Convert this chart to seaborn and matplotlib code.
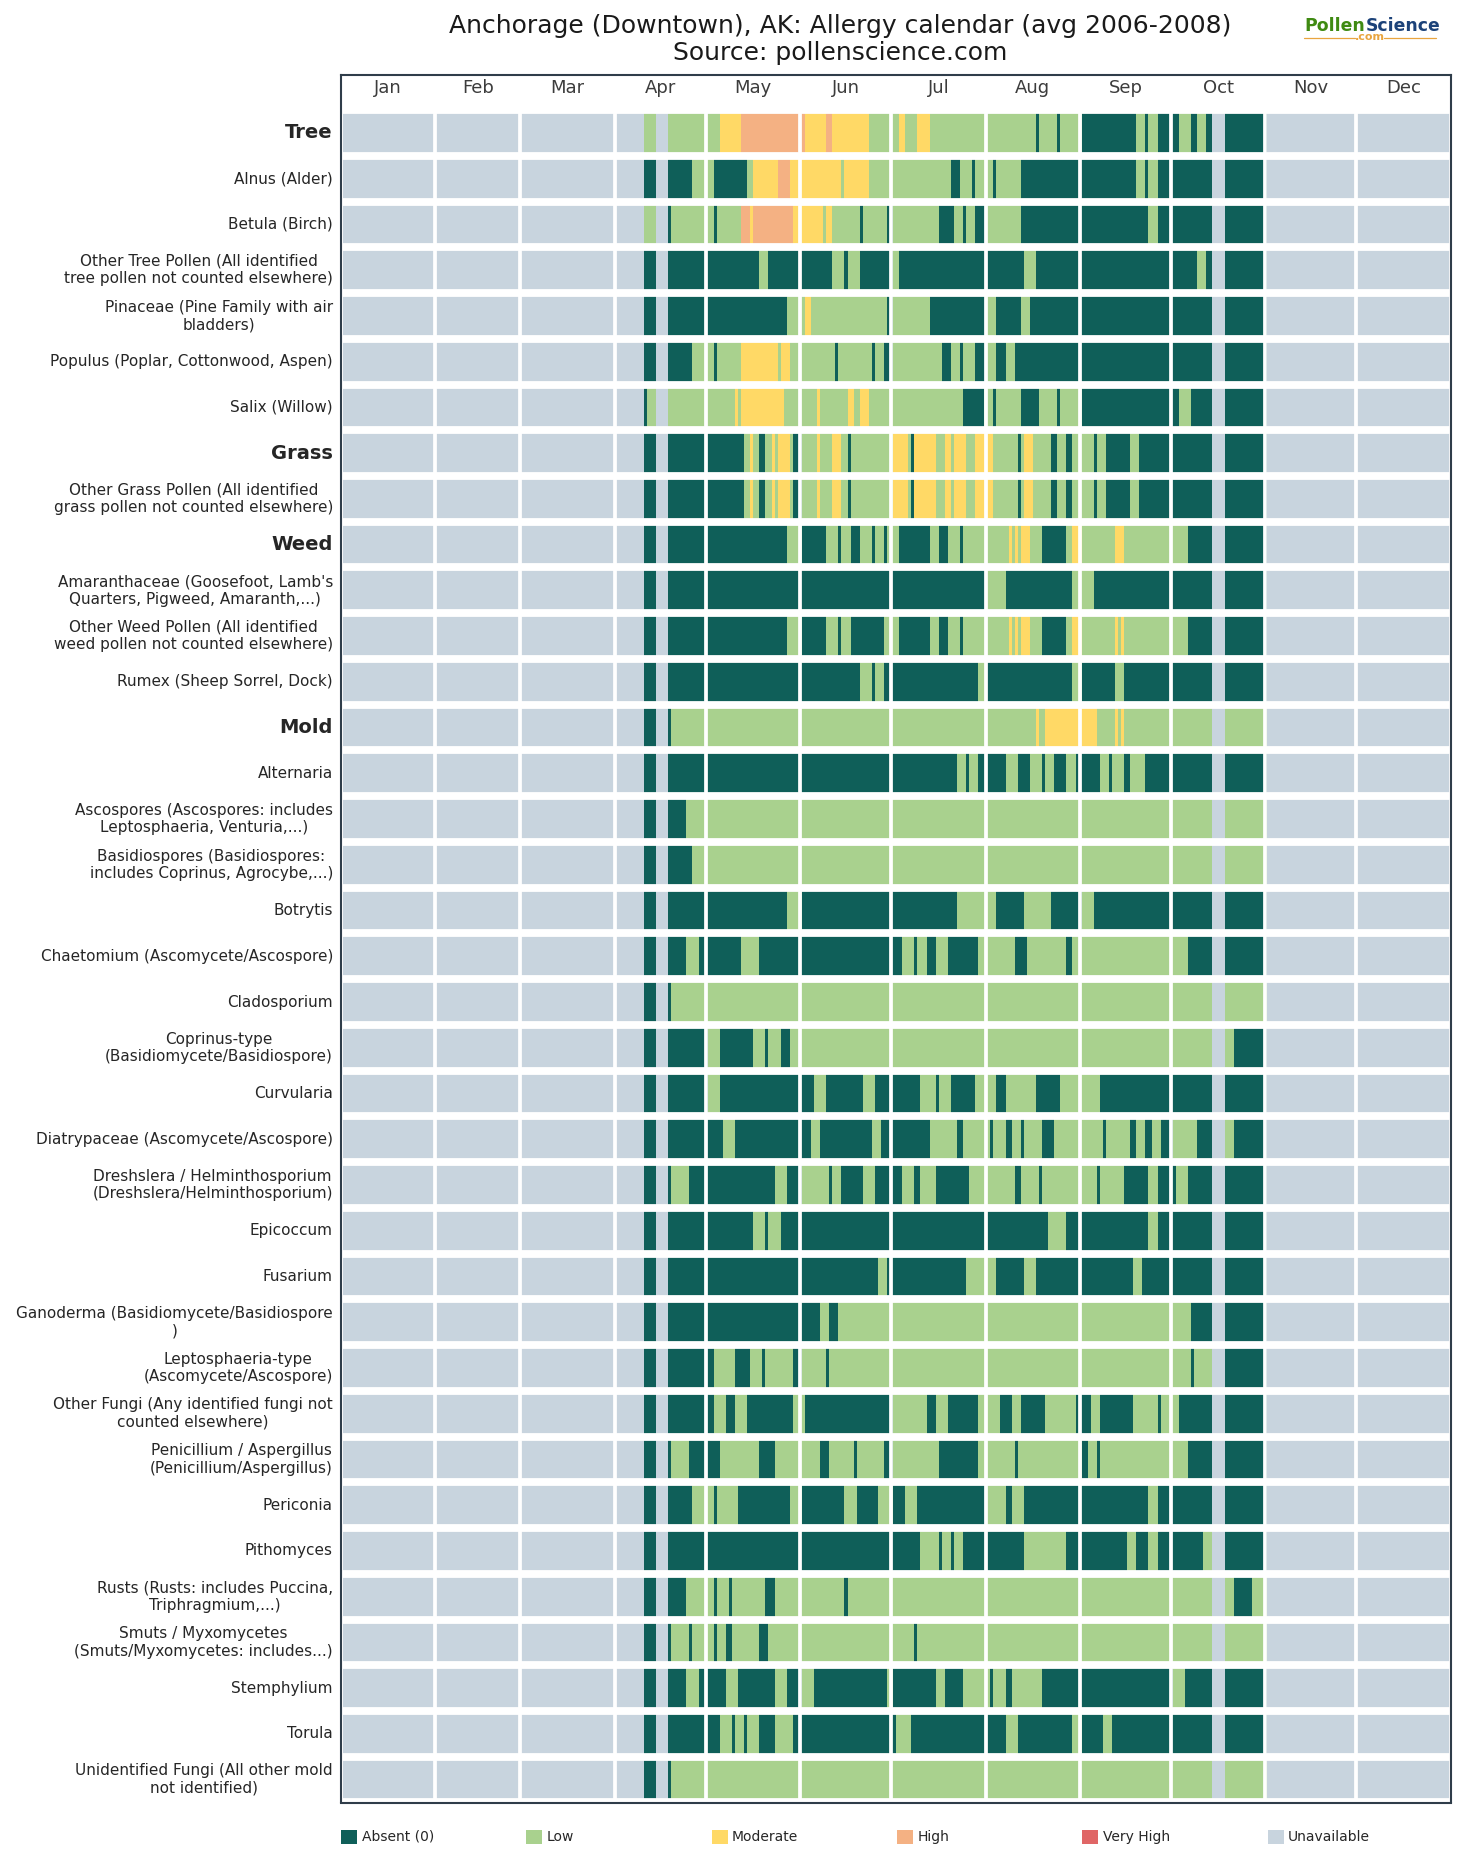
import numpy as np
import pandas as pd
import matplotlib
matplotlib.use("Agg")
import matplotlib.pyplot as plt
from matplotlib.colors import ListedColormap
from matplotlib.patches import Rectangle
from matplotlib.lines import Line2D
import seaborn as sns

# Severity levels
A, L, M, H, V, U = 0, 1, 2, 3, 4, 5

LEVEL_NAMES = ["Absent (0)", "Low", "Moderate", "High", "Very High", "Unavailable"]
LEVEL_COLORS = ["#0f5f59", "#a9d18e", "#ffd966", "#f4b183", "#e06666", "#c8d4de"]

MONTHS = ["Jan", "Feb", "Mar", "Apr", "May", "Jun", "Jul", "Aug", "Sep", "Oct", "Nov", "Dec"]
MONTH_DAYS = [31, 28, 31, 30, 31, 30, 31, 31, 30, 31, 30, 31]

LABELS = [
    "Tree", "Alnus (Alder)", "Betula (Birch)",
    "Other Tree Pollen (All identified\ntree pollen not counted elsewhere)",
    "Pinaceae (Pine Family with air\nbladders)",
    "Populus (Poplar, Cottonwood, Aspen)", "Salix (Willow)",
    "Grass", "Other Grass Pollen (All identified\ngrass pollen not counted elsewhere)",
    "Weed", "Amaranthaceae (Goosefoot, Lamb's\nQuarters, Pigweed, Amaranth,...)",
    "Other Weed Pollen (All identified\nweed pollen not counted elsewhere)",
    "Rumex (Sheep Sorrel, Dock)",
    "Mold", "Alternaria",
    "Ascospores (Ascospores: includes\nLeptosphaeria, Venturia,...)",
    "Basidiospores (Basidiospores:\nincludes Coprinus, Agrocybe,...)",
    "Botrytis", "Chaetomium (Ascomycete/Ascospore)", "Cladosporium",
    "Coprinus-type\n(Basidiomycete/Basidiospore)", "Curvularia",
    "Diatrypaceae (Ascomycete/Ascospore)",
    "Dreshslera / Helminthosporium\n(Dreshslera/Helminthosporium)",
    "Epicoccum", "Fusarium",
    "Ganoderma (Basidiomycete/Basidiospore\n)",
    "Leptosphaeria-type\n(Ascomycete/Ascospore)",
    "Other Fungi (Any identified fungi not\ncounted elsewhere)",
    "Penicillium / Aspergillus\n(Penicillium/Aspergillus)",
    "Periconia", "Pithomyces",
    "Rusts (Rusts: includes Puccina,\nTriphragmium,...)",
    "Smuts / Myxomycetes\n(Smuts/Myxomycetes: includes...)",
    "Stemphylium", "Torula",
    "Unidentified Fungi (All other mold\nnot identified)",
]
CATEGORY_ROWS = {"Tree", "Grass", "Weed", "Mold"}

# Each series: (first day of year, level from that day on); days before the
# first entry and from November on are unavailable.
tree = [(99,L),(103,U),(107,L),(124,M),(131,H),(152,M),(159,H),(161,M),(173,L),(183,M),(185,L),(189,M),(193,L),(228,A),(229,L),(235,A),(236,L),(243,A),(261,L),(264,A),(265,L),(268,A),(275,L),(279,A),(281,L),(284,A),(286,U),(290,A)]
alnus = [(99,A),(103,U),(107,A),(115,L),(122,A),(133,L),(135,M),(143,H),(147,M),(164,L),(165,M),(173,L),(200,A),(203,L),(207,A),(208,L),(214,A),(215,L),(223,A),(261,L),(264,A),(265,L),(268,A),(286,U),(290,A)]
betula = [(99,L),(103,U),(107,A),(108,L),(122,A),(123,L),(131,H),(134,M),(135,H),(148,M),(158,L),(159,M),(161,L),(170,A),(171,L),(179,A),(181,L),(196,A),(201,L),(204,A),(205,L),(208,A),(212,L),(223,A),(265,L),(268,A),(286,U),(290,A)]
other_tree = [(99,A),(103,U),(107,A),(137,L),(140,A),(161,L),(165,A),(166,L),(170,A),(181,L),(183,A),(224,L),(228,A),(281,L),(284,A),(286,U),(290,A)]
pinaceae = [(99,A),(103,U),(107,A),(146,L),(152,M),(154,L),(179,A),(181,L),(193,A),(212,L),(215,A),(223,L),(226,A),(286,U),(290,A)]
populus = [(99,A),(103,U),(107,A),(115,L),(122,A),(123,L),(131,M),(143,L),(144,M),(147,L),(162,A),(163,L),(174,A),(175,L),(178,A),(181,L),(197,A),(200,L),(203,A),(204,L),(208,A),(212,L),(215,A),(218,L),(221,A),(286,U),(290,A)]
salix = [(99,A),(100,L),(103,U),(107,L),(129,M),(130,L),(131,M),(145,L),(156,M),(157,L),(166,M),(168,L),(170,M),(173,L),(204,A),(211,L),(214,A),(215,L),(223,A),(229,L),(235,A),(236,L),(243,A),(275,L),(279,A),(286,U),(290,A)]
grass = [(99,A),(103,U),(107,A),(132,L),(134,M),(135,L),(137,A),(139,L),(141,M),(142,L),(143,M),(147,L),(148,A),(151,L),(156,M),(157,L),(161,M),(164,L),(166,A),(167,L),(181,M),(186,L),(187,A),(188,M),(195,L),(198,M),(200,L),(201,M),(205,L),(208,M),(214,L),(222,A),(223,L),(224,M),(227,L),(233,A),(235,L),(238,A),(240,L),(247,A),(248,L),(251,A),(259,L),(262,A),(286,U),(290,A)]
other_grass = list(grass)
weed = [(99,A),(103,U),(107,A),(146,L),(151,A),(159,L),(163,A),(164,L),(167,A),(170,L),(174,A),(175,L),(178,A),(179,L),(183,A),(193,L),(196,A),(199,L),(203,A),(204,L),(219,M),(220,L),(221,M),(222,L),(223,M),(226,L),(230,A),(238,L),(240,M),(243,L),(254,M),(257,L),(278,A),(286,U),(290,A)]
amaranthaceae = [(99,A),(103,U),(107,A),(212,L),(218,A),(240,L),(247,A),(286,U),(290,A)]
other_weed = [(99,A),(103,U),(107,A),(146,L),(151,A),(159,L),(163,A),(164,L),(167,A),(178,L),(183,A),(193,L),(196,A),(199,L),(203,A),(204,L),(219,M),(220,L),(221,M),(222,L),(223,M),(226,L),(230,A),(238,L),(240,M),(243,L),(254,M),(255,L),(256,M),(257,L),(278,A),(286,U),(290,A)]
rumex = [(99,A),(103,U),(107,A),(170,L),(174,A),(175,L),(178,A),(209,L),(212,A),(240,L),(243,A),(254,L),(257,A),(286,U),(290,A)]
mold = [(99,A),(103,U),(107,A),(108,L),(228,M),(229,L),(231,M),(248,L),(254,M),(255,L),(256,M),(257,L),(286,U),(290,L)]
alternaria = [(99,A),(103,U),(107,A),(202,L),(205,A),(206,L),(209,A),(218,L),(222,A),(226,L),(230,A),(231,L),(234,A),(238,L),(241,A),(249,L),(252,A),(253,L),(257,A),(259,L),(264,A),(286,U),(290,A)]
ascospores = [(99,A),(103,U),(107,A),(113,L),(286,U),(290,L)]
basidiospores = [(99,A),(103,U),(107,A),(115,L),(286,U),(290,L)]
botrytis = [(99,A),(103,U),(107,A),(146,L),(151,A),(202,L),(215,A),(224,L),(233,A),(243,L),(247,A),(286,U),(290,A)]
chaetomium = [(99,A),(103,U),(107,A),(113,L),(117,A),(131,L),(137,A),(184,L),(188,A),(189,L),(192,A),(195,L),(199,A),(209,L),(221,A),(225,L),(238,A),(240,L),(278,A),(286,U),(290,A)]
cladosporium = [(99,A),(103,U),(107,A),(108,L),(286,U),(290,L)]
coprinus = [(99,A),(103,U),(107,A),(120,L),(124,A),(135,L),(139,A),(140,L),(144,A),(147,L),(286,U),(290,L),(293,A)]
curvularia = [(99,A),(103,U),(107,A),(120,L),(124,A),(155,L),(159,A),(171,L),(175,A),(190,L),(195,A),(196,L),(200,A),(208,L),(215,A),(218,L),(228,A),(236,L),(249,A),(286,U),(290,A)]
diatrypaceae = [(99,A),(103,U),(107,A),(125,L),(129,A),(154,L),(157,A),(174,L),(177,A),(193,L),(202,A),(204,L),(213,A),(214,L),(218,A),(220,L),(223,A),(224,L),(230,A),(234,L),(250,A),(251,L),(259,A),(261,L),(264,A),(266,L),(269,A),(273,L),(281,A),(286,U),(290,L),(293,A)]
dreshslera = [(99,A),(103,U),(107,A),(108,L),(114,A),(142,L),(146,A),(151,L),(160,A),(161,L),(164,A),(171,L),(175,A),(184,L),(188,A),(190,L),(195,A),(206,L),(221,A),(223,L),(229,A),(230,L),(248,A),(249,L),(257,A),(265,L),(268,A),(274,L),(278,A),(286,U),(290,A)]
epicoccum = [(99,A),(103,U),(107,A),(135,L),(139,A),(140,L),(144,A),(232,L),(238,A),(265,L),(268,A),(286,U),(290,A)]
fusarium = [(99,A),(103,U),(107,A),(176,L),(179,A),(205,L),(215,A),(224,L),(228,A),(260,L),(263,A),(286,U),(290,A)]
ganoderma = [(99,A),(103,U),(107,A),(157,L),(160,A),(163,L),(279,A),(286,U),(290,A)]
leptosphaeria = [(99,A),(103,U),(107,A),(122,L),(129,A),(134,L),(138,A),(139,L),(148,A),(151,L),(159,A),(160,L),(279,A),(280,L),(286,U),(290,A)]
other_fungi = [(99,A),(103,U),(107,A),(122,L),(126,A),(129,L),(133,A),(148,L),(152,A),(181,L),(192,A),(195,L),(199,A),(209,L),(216,A),(220,L),(223,A),(231,L),(241,A),(246,L),(249,A),(260,L),(268,A),(269,L),(275,A),(286,U),(290,A)]
penicillium = [(99,A),(103,U),(107,A),(108,L),(114,A),(124,L),(137,A),(142,L),(157,A),(160,L),(168,A),(169,L),(178,A),(181,L),(196,A),(209,L),(221,A),(222,L),(243,A),(245,L),(248,A),(249,L),(278,A),(286,U),(290,A)]
periconia = [(99,A),(103,U),(107,A),(115,L),(122,A),(123,L),(130,A),(147,L),(151,A),(165,L),(169,A),(176,L),(181,A),(185,L),(189,A),(212,L),(218,A),(220,L),(224,A),(265,L),(268,A),(286,U),(290,A)]
pithomyces = [(99,A),(103,U),(107,A),(190,L),(196,A),(197,L),(200,A),(201,L),(204,A),(224,L),(238,A),(258,L),(261,A),(265,L),(268,A),(283,L),(286,U),(290,A)]
rusts = [(99,A),(103,U),(107,A),(113,L),(122,A),(123,L),(127,A),(128,L),(139,A),(142,L),(165,A),(166,L),(286,U),(290,L),(293,A),(299,L)]
smuts = [(99,A),(103,U),(107,A),(108,L),(114,A),(115,L),(122,A),(123,L),(126,A),(128,L),(137,A),(140,L),(188,A),(189,L),(286,U),(290,L)]
stemphylium = [(99,A),(103,U),(107,A),(113,L),(117,A),(126,L),(130,A),(142,L),(146,A),(151,L),(155,A),(179,L),(181,A),(195,L),(198,A),(204,L),(213,A),(214,L),(218,A),(220,L),(230,A),(273,L),(277,A),(286,U),(290,A)]
torula = [(99,A),(103,U),(107,A),(124,L),(128,A),(129,L),(132,A),(133,L),(137,A),(142,L),(148,A),(182,L),(187,A),(218,L),(222,A),(240,L),(243,A),(250,L),(253,A),(286,U),(290,A)]
unidentified = [(99,A),(103,U),(107,A),(108,L),(286,U),(290,L)]

SERIES = [
    tree, alnus, betula, other_tree, pinaceae, populus, salix,
    grass, other_grass,
    weed, amaranthaceae, other_weed, rumex,
    mold, alternaria, ascospores, basidiospores, botrytis, chaetomium, cladosporium,
    coprinus, curvularia, diatrypaceae, dreshslera, epicoccum, fusarium, ganoderma,
    leptosphaeria, other_fungi, penicillium, periconia, pithomyces, rusts, smuts,
    stemphylium, torula, unidentified,
]

DAYS_IN_YEAR = sum(MONTH_DAYS)
DATA_END_DAY = 304


def expand(runs):
    """Turn (start day, level) runs into one value per day."""
    days = np.full(DAYS_IN_YEAR, U, dtype=int)
    starts = [r[0] for r in runs] + [DATA_END_DAY]
    for (start, level), stop in zip(runs, starts[1:]):
        days[start:stop] = level
    return days


calendar = pd.DataFrame([expand(r) for r in SERIES], index=LABELS)

sns.set_theme(style="white")
FIG_W, FIG_H, DPI = 1480, 1875, 100
fig = plt.figure(figsize=(FIG_W / DPI, FIG_H / DPI), dpi=DPI)


def fx(px):
    return px / FIG_W


def fy(py):
    return 1 - py / FIG_H


AX_L, AX_R, AX_T, AX_B = 341.0, 1451.0, 75.3, 1802.5
ax = fig.add_axes([fx(AX_L), fy(AX_B), (AX_R - AX_L) / FIG_W, (AX_B - AX_T) / FIG_H])

sns.heatmap(
    calendar, ax=ax, cmap=ListedColormap(LEVEL_COLORS), vmin=-0.5, vmax=5.5,
    cbar=False, xticklabels=False, yticklabels=True, linewidths=0,
)

ax.set_xlim(-0.6, 364.5)
ax.set_ylim(len(LABELS), -0.76)
ax.set_ylabel("")
ax.set_xlabel("")

# White gutters between rows and at the end of each month
ax.hlines(np.arange(len(LABELS) + 1), -1, 366, colors="white", linewidth=5.6, zorder=3)
month_starts = np.cumsum([0] + MONTH_DAYS)
ax.vlines(month_starts[1:] - 0.6, 0, len(LABELS), colors="white", linewidth=2.7, zorder=3)

for name, start, n in zip(MONTHS, month_starts[:-1], MONTH_DAYS):
    ax.text(start + n / 2 - 0.6, -0.49, name, ha="center", va="center",
            fontsize=13, color="#3c3c3c", zorder=4)

ax.tick_params(axis="y", length=0, pad=5.8, left=False)
for tick, name in zip(ax.get_yticklabels(), LABELS):
    tick.set_rotation(0)
    tick.set_ha("right")
    tick.set_multialignment("center")
    tick.set_color("#262626")
    if name in CATEGORY_ROWS:
        tick.set_fontsize(14)
        tick.set_fontweight("bold")
    else:
        tick.set_fontsize(11)
        tick.set_linespacing(1.2)

for spine in ax.spines.values():
    spine.set_visible(True)
    spine.set_color("#2f3d4a")
    spine.set_linewidth(1.5)
    spine.set_zorder(5)

fig.text(fx(840), fy(39.5), "Anchorage (Downtown), AK: Allergy calendar (avg 2006-2008)\nSource: pollenscience.com",
         ha="center", va="center", fontsize=18, linespacing=1.2,
         color="#1a1a1a", multialignment="center")

# Legend row
LEGEND_X0, LEGEND_PITCH, LEGEND_Y = 341.0, 185.3, 1837.0
for i, (name, color) in enumerate(zip(LEVEL_NAMES, LEVEL_COLORS)):
    x = LEGEND_X0 + i * LEGEND_PITCH
    fig.add_artist(Rectangle((fx(x), fy(LEGEND_Y + 7)), 16 / FIG_W, 14 / FIG_H,
                             transform=fig.transFigure, facecolor=color, edgecolor="none"))
    fig.text(fx(x + 20.5), fy(LEGEND_Y), name, ha="left", va="center",
             fontsize=10, color="#262626")

# Wordmark
WM_SIZE = 12.4
wm_first = fig.text(fx(1304), fy(26), "Pollen", ha="left", va="center", fontsize=WM_SIZE,
                    fontweight="bold", color="#3f8a12")
fig.canvas.draw()
bb = wm_first.get_window_extent()
fig.text((bb.x1 + 1) / FIG_W, fy(26), "Science", ha="left", va="center", fontsize=WM_SIZE,
         fontweight="bold", color="#1c4279")
fig.text(fx(1369.5), fy(37), ".com", ha="center", va="center", fontsize=8,
         fontweight="bold", color="#e9a53f")
for x0, x1 in ((1304, 1355), (1384, 1436)):
    fig.add_artist(Line2D([fx(x0), fx(x1)], [fy(37.5), fy(37.5)], transform=fig.transFigure,
                          color="#e9a53f", linewidth=0.9))

fig.savefig("out.png", dpi=DPI, facecolor="white")
